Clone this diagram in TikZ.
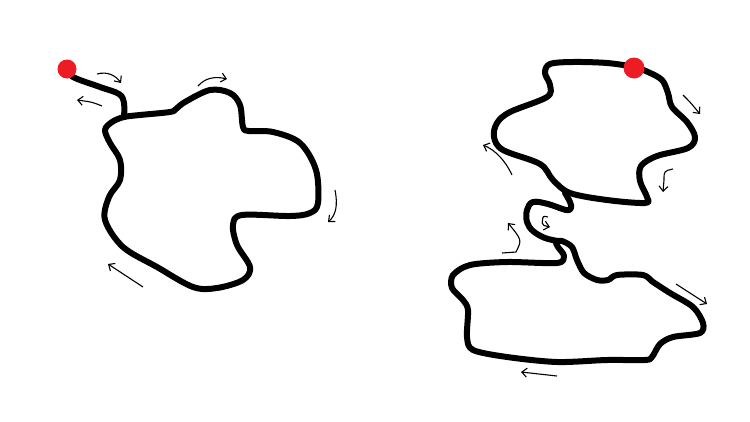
\documentclass[tikz,border=0pt]{standalone}
\usepackage{tikz}
\usetikzlibrary{arrows.meta,positioning}
\definecolor{paintred}{HTML}{ED1C24}
\tikzstyle{trail}=[line width=6pt,line join=round,line cap=round]
\tikzstyle{hint}=[line width=1.1pt,-{Straight Barb[length=5pt,width=9pt,line width=1.1pt]}]
\tikzstyle{startdot}=[circle,fill=paintred,inner sep=0pt]

\begin{document}
\begin{tikzpicture}[x=1pt,y=-1pt]
    \useasboundingbox (0,0) rectangle (750,421);

    % left trail
    \draw[trail] plot[smooth cycle,tension=0.55] coordinates {
        (124,117) (140,115) (170,112) (176,109) (185,102) (210,90) (230,93)
        (240,105) (243,127) (249,131) (273,132) (300,143) (316,170) (318,203)
        (310,213) (290,216) (242,215) (233,225) (237,245) (250,267) (243,280)
        (217,288) (193,287) (157,267) (123,247) (105,220) (109,197) (120,180)
        (120,160) (110,143) (105,130) (112,122)};
    \draw[trail] plot[smooth,tension=0.6] coordinates {
        (67,69) (73,77) (100,87) (119,94) (124,103) (124,117)};
    \node[startdot,minimum size=19pt] (dotL) at (67,69) {};

    \draw[hint] (97,74) .. controls (108,71) and (116,76) .. (121,83);
    \draw[hint] (102,106) .. controls (92,102) .. (77,100);
    \draw[hint] (198,86) .. controls (205,78) and (215,76) .. (227,79);
    \draw[hint] (335,190) .. controls (338,205) and (336,215) .. (328,222);
    \draw[hint] (143,287) -- (108,264);

    % right trail
    \draw[trail] plot[smooth cycle,tension=0.55] coordinates {
        (634,67) (648,72) (662,80) (668,93) (672,107) (687,122) (695,137)
        (688,148) (657,156) (641,166) (640,181) (647,197) (645,203) (607,200)
        (570,193) (553,180) (540,164) (503,150) (494,137) (497,123) (510,112)
        (547,97) (550,85) (545,73) (550,64) (573,62) (607,63)};
    \draw[trail] plot[smooth,tension=0.6] coordinates {
        (565,193) (570,202) (571,208) (566,210) (548,204) (533,202) (527,210)
        (527,222) (533,231) (545,238) (558,241)};
    \draw[trail] plot[smooth cycle,tension=0.5] coordinates {
        (562,241) (572,247) (577,260) (584,273) (597,280) (608,280) (617,275)
        (643,275) (653,282) (670,293) (693,307) (703,323) (700,333) (673,337)
        (660,344) (652,357) (645,360) (607,360) (557,362) (507,357) (473,350)
        (467,337) (468,310) (463,300) (452,288) (453,275) (470,265) (507,262)
        (557,263) (564,256) (558,247) (556,242)};
    \node[startdot,minimum size=21pt] (dotR) at (634,68) {};

    \draw[hint] (683,95) .. controls (690,102) .. (700,114);
    \draw[hint] (512,175) .. controls (505,160) and (495,150) .. (483,145);
    \draw[hint] (673,169) .. controls (664,171) .. (664,180) -- (663,192);
    \draw[hint,rounded corners=2pt] (548,217) -- (543,216) -- (542,225) -- (550,227);
    \draw[hint] (502,253) -- (516,252) .. controls (522,240) .. (508,223);
    \draw[hint] (676,284) -- (707,304);
    \draw[hint] (557,376) -- (521,372);
\end{tikzpicture}
\end{document}
